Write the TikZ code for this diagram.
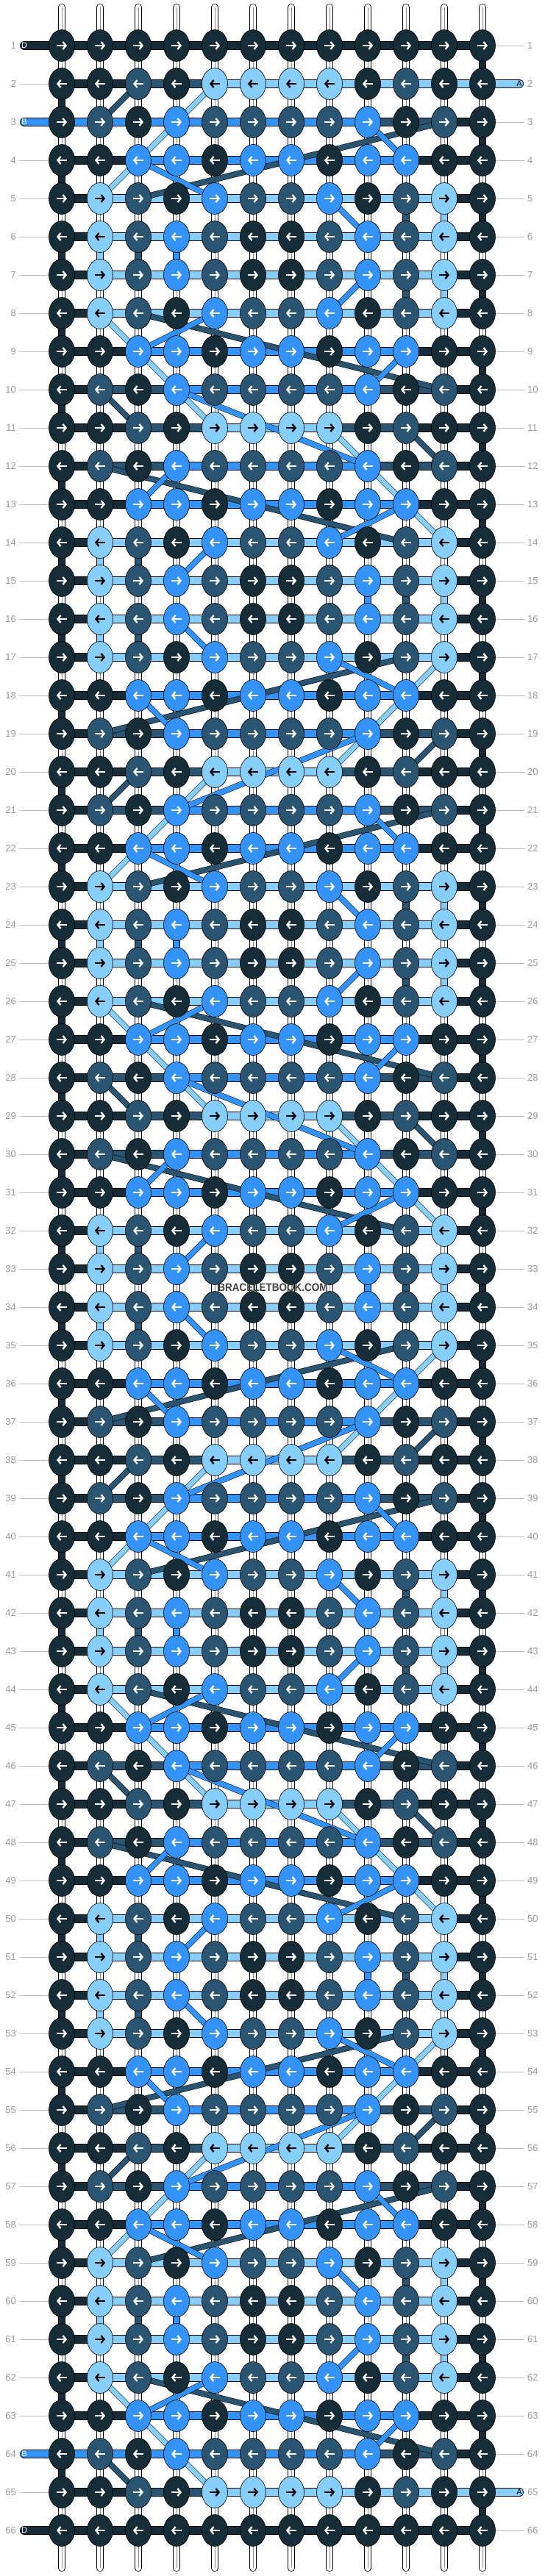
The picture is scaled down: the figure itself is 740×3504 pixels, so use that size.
\documentclass[tikz,border=0pt]{standalone}
\usepackage{fontspec}
\setmainfont{Liberation Sans}
\usetikzlibrary{shapes.geometric,arrows.meta}

\definecolor{knotD}{HTML}{162C37}
\definecolor{knotC}{HTML}{2A5470}
\definecolor{knotB}{HTML}{3393F8}
\definecolor{knotA}{HTML}{87CEFA}
\colorlet{tipD}{white}
\colorlet{tipC}{white}
\colorlet{tipB}{white}
\colorlet{tipA}{black}

\pgfdeclarelayer{threads}
\pgfdeclarelayer{bars}
\pgfdeclarelayer{jumps}
\pgfsetlayers{threads,bars,jumps,main}

\tikzset{
	knot/.style={ellipse, draw=black, line width=0.6pt, fill=knot#1, minimum width=35pt, minimum height=43pt, inner sep=0pt},
	strand/.style={draw=black, line width=0.6pt, double=knot#1, double distance=10.8pt},
	drop/.style={draw=black, line width=0.7pt, double=knot#1, double distance=8.6pt},
	jump/.style={draw=black, line width=0.5pt, double=knot#1, double distance=7pt},
	basestr/.style={draw=black, line width=0.7pt, double=white, double distance=8.6pt, line cap=round},
	basemid/.style={draw=black!45, line width=0.5pt},
	tipline/.style={line width=2.4pt, -{Straight Barb[length=4pt,width=10pt]}},
	rowno/.style={text=black!40, font=\fontsize{13}{13}\selectfont, inner sep=0pt},
	rowline/.style={draw=black!25, line width=0.8pt},
	tag/.style={font=\fontsize{11}{11}\selectfont, inner sep=0pt}
}

% knot colours of a row, by row type
\newcommand\setknots[1]{\ifcase#1
	\def\kpat{D,D,C,D,A,A,A,A,D,C,D,D}\or
	\def\kpat{D,C,D,B,C,C,C,C,B,D,C,D}\or
	\def\kpat{D,D,B,B,D,B,B,D,B,B,D,D}\or
	\def\kpat{D,A,C,D,B,C,C,B,D,C,A,D}\or
	\def\kpat{D,A,C,B,C,D,D,C,B,C,A,D}\or
	\def\kpat{D,D,D,D,D,D,D,D,D,D,D,D}\fi}
% string colours between the knots of a row
\newcommand\setbars[1]{\ifcase#1
	\def\bpat{D,D,C,C,A,A,A,C,C,D,D}\or
	\def\bpat{D,C,C,B,B,B,B,B,C,C,D}\or
	\def\bpat{D,D,B,B,B,B,B,B,B,D,D}\or
	\def\bpat{D,A,A,A,A,A,A,A,A,A,D}\or
	\def\bpat{D,A,A,A,A,A,A,A,A,A,D}\or
	\def\bpat{D,D,D,D,D,D,D,D,D,D,D}\or
	\def\bpat{D,D,C,C,A,A,A,A,A,A,A}\or
	\def\bpat{B,B,B,B,B,B,B,B,C,C,D}\fi}

\begin{document}
\begin{tikzpicture}[x=1pt, y=-1pt]
\useasboundingbox (0,0) rectangle (740,3504);

\foreach \rw in {1,...,66}{
	\pgfmathtruncatemacro\kk{mod(\rw+16,9)}
	\pgfmathtruncatemacro\ty{min(\kk,9-\kk)}
	\pgfmathtruncatemacro\bt{\ty}
	\ifnum\rw=1 \def\ty{5}\def\bt{5}\fi
	\ifnum\rw=66 \def\ty{5}\def\bt{5}\fi
	\ifnum\rw=2 \def\bt{6}\fi
	\ifnum\rw=65 \def\bt{6}\fi
	\ifnum\rw=3 \def\bt{7}\fi
	\ifnum\rw=64 \def\bt{7}\fi
	\setknots{\ty}\setbars{\bt}
	\pgfmathsetmacro\yy{62+52*(\rw-1)}
	\foreach \kc [count=\cn] in \kpat {
		\node[knot=\kc] (k-\rw-\cn) at ({84+52*(\cn-1)},\yy) {};
		\ifodd\rw \draw[tipline, draw=tip\kc] ([xshift=-7pt]k-\rw-\cn.center) -- ([xshift=7pt]k-\rw-\cn.center);
		\else \draw[tipline, draw=tip\kc] ([xshift=7pt]k-\rw-\cn.center) -- ([xshift=-7pt]k-\rw-\cn.center);
		\fi
	}
	\begin{pgfonlayer}{bars}
	\foreach \bc [count=\cn] in \bpat {
		\pgfmathtruncatemacro\nx{\cn+1}
		\draw[strand=\bc] (k-\rw-\cn.center) -- (k-\rw-\nx.center);
	}
	\end{pgfonlayer}
	\node[rowno, anchor=east] (no-l-\rw) at (22,\yy) {\rw};
	\node[rowno, anchor=west] (no-r-\rw) at (717,\yy) {\rw};
	\pgfmathtruncatemacro\lt{(\rw==1)||(\rw==3)||(\rw==64)||(\rw==66)}
	\pgfmathtruncatemacro\rt{(\rw==2)||(\rw==65)}
	\ifnum\lt=0 \draw[rowline] ([xshift=4pt]no-l-\rw.east) -- (k-\rw-1.west); \fi
	\ifnum\rt=0 \draw[rowline] (k-\rw-12.east) -- ([xshift=-4pt]no-r-\rw.west); \fi
}

\begin{pgfonlayer}{threads}
\foreach \cn in {1,...,12}{
	\coordinate (top-\cn) at ({84+52*(\cn-1)},10);
	\coordinate (bot-\cn) at ({84+52*(\cn-1)},3493);
	\draw[basestr] (top-\cn) -- (bot-\cn);
	\draw[basemid] (top-\cn) -- (bot-\cn);
}
% turns at the edges
\foreach \rw in {1,...,65}{
	\pgfmathtruncatemacro\nr{\rw+1}
	\ifodd\rw \def\ec{12}\else \def\ec{1}\fi
	\draw[drop=D] (k-\rw-\ec.center) -- (k-\nr-\ec.center);
}
\foreach \rb/\cn/\kc in {5/10/C,5/11/A,6/2/A,6/3/C,6/4/B,7/10/C,7/11/A,14/2/A,14/3/C,15/9/B,15/10/C,15/11/A,16/2/A,16/3/C}
	\foreach \m in {0,18,36,54}{
		\pgfmathtruncatemacro\ra{\rb+\m}
		\pgfmathtruncatemacro\nr{\rb+\m+1}
		\ifnum\nr<66 \draw[drop=\kc] (k-\ra-\cn.center) -- (k-\nr-\cn.center); \fi
	}
\end{pgfonlayer}

\begin{pgfonlayer}{jumps}
\foreach \ra/\ca/\rb/\cb/\kc in {2/3/3/2/C,3/11/5/3/C,8/3/10/11/C,10/2/11/3/C,11/10/12/11/C,12/2/14/10/C,17/10/19/2/C,19/11/20/10/C,
	2/5/5/2/A,8/2/11/5/A,11/8/14/11/A,17/11/20/8/A,
	3/9/4/10/B,4/3/5/5/B,5/8/6/9/B,7/9/8/8/B,8/5/9/3/B,9/10/10/9/B,10/4/12/9/B,12/4/13/3/B,13/10/14/8/B,14/5/15/4/B,16/4/17/5/B,17/8/18/10/B,18/3/19/4/B,19/9/21/4/B}
	\foreach \m in {0,18,36,54}{
		\pgfmathtruncatemacro\sa{\ra+\m}
		\pgfmathtruncatemacro\sb{\rb+\m}
		\ifnum\sb<66 \draw[jump=\kc] (k-\sa-\ca.center) -- (k-\sb-\cb.center); \fi
	}
\end{pgfonlayer}

% loose ends
\coordinate (end-1) at (33,62);
\coordinate (end-3) at (33,166);
\coordinate (end-64) at (33,3338);
\coordinate (end-66) at (33,3442);
\coordinate (end-2) at (706,114);
\coordinate (end-65) at (706,3390);
\begin{pgfonlayer}{bars}
\foreach \rw/\cn/\kc in {1/1/D,3/1/B,64/1/B,66/1/D,2/12/A,65/12/A}
	\draw[strand=\kc, line cap=round] (end-\rw) -- (k-\rw-\cn.center);
\end{pgfonlayer}
\foreach \rw/\kc in {1/D,3/B,64/B,66/D,2/A,65/A}
	\node[tag, text=tip\kc] (tag-\rw) at (end-\rw) {\kc};

\node[font=\bfseries\fontsize{15}{15}\selectfont, text=black!75] (mark) at (371,1751) {\scalebox{0.9}[1]{BRACELETBOOK.COM}};
\end{tikzpicture}
\end{document}
